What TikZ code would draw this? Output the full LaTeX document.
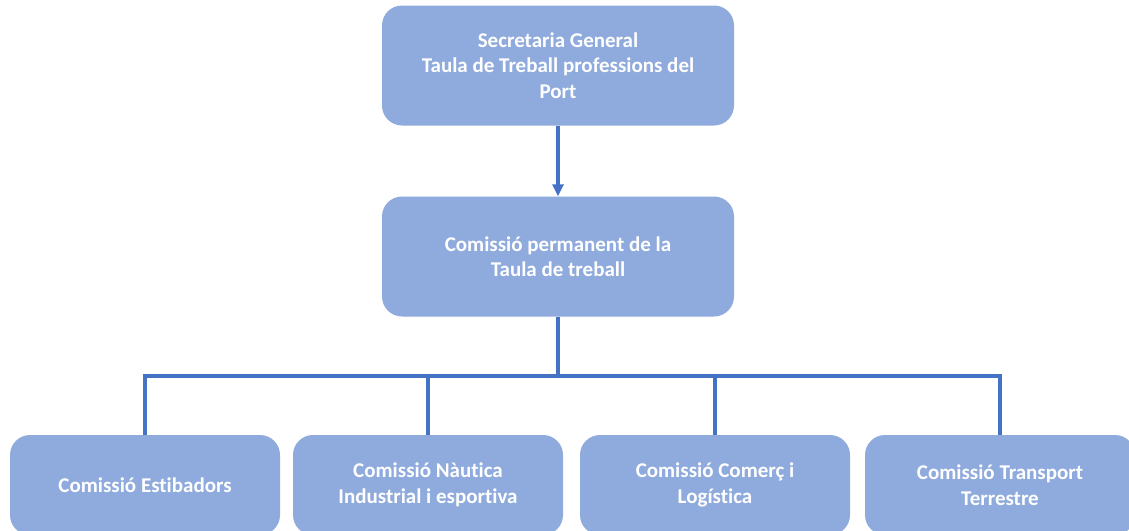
\documentclass[tikz,border=0pt]{standalone}
\usepackage{fontspec}
\setmainfont[Ligatures=NoCommon]{Carlito}
\usetikzlibrary{arrows.meta}
\definecolor{boxfill}{HTML}{8FAADC}
\definecolor{linecol}{HTML}{4472C4}
\tikzset{
  orgbox/.style={draw=none, fill=boxfill, rounded corners=20pt, text=white,
    font=\fontsize{21}{25.5}\selectfont\bfseries, align=center, inner sep=0pt},
  topbox/.style={orgbox, minimum width=352pt, minimum height=120pt},
  lowbox/.style={orgbox, minimum width=270pt, minimum height=100pt},
  conn/.style={draw=linecol, line width=3.5pt},
  arr/.style={conn, -{Triangle[length=12pt,width=11pt]}}
}
\begin{document}
\begin{tikzpicture}[x=1pt,y=-1pt]
\useasboundingbox (0,0) rectangle (1129,530);
\clip (0,0) rectangle (1129,530);
\node[topbox] (sg) at (558,65.5) {Secretaria General\\Taula de Treball professions del\\Port};
\node[topbox] (cp) at (558,256.5) {Comissió permanent de la\\Taula de treball};
\node[lowbox] (b1) at (145,485) {Comissió Estibadors};
\node[lowbox] (b2) at (428,485) {Comissió Nàutica\\Industrial i esportiva};
\node[lowbox] (b3) at (715,485) {Comissió Comerç i\\Logística};
\node[lowbox] (b4) at (1000,485) {Comissió Transport\\Terrestre};
\coordinate (bus) at (558,376);
\draw[arr] (sg.south) -- (cp.north);
\draw[conn] (cp.south) -- (bus);
\draw[conn] (b1.north) -- (b1.north |- bus) -- (b4.north |- bus) -- (b4.north);
\draw[conn] (b2.north) -- (b2.north |- bus);
\draw[conn] (b3.north) -- (b3.north |- bus);
\end{tikzpicture}
\end{document}
